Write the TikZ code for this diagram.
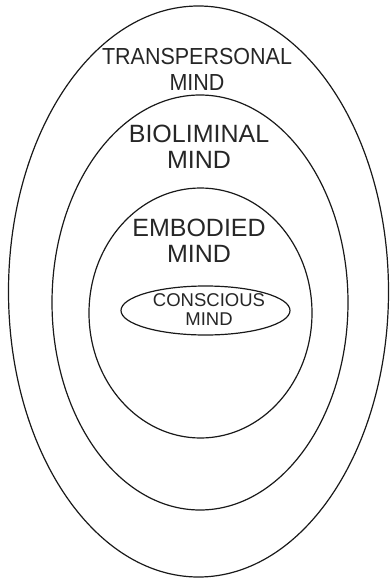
\documentclass[tikz,border=0pt]{standalone}
\usepackage{fontspec}
\setmainfont{Liberation Sans}
\usetikzlibrary{shapes.geometric}
\begin{document}
\begin{tikzpicture}[x=1pt,y=-1pt,
  ring/.style={draw=black!90,line width=1.2pt},
  lbl/.style={text=black!85,align=center,inner sep=0pt}]
\useasboundingbox (0,0) rectangle (390,578);
\draw[ring] (198.5,291.5) ellipse [x radius=190, y radius=285.5];
\draw[ring] (200,302.5) ellipse [x radius=148, y radius=207.5];
\draw[ring] (200.5,313) ellipse [x radius=111.5, y radius=125];
\draw[ring] (205.5,310.5) ellipse [x radius=84.5, y radius=24.5];
\node[lbl,font=\fontsize{21.5}{24}\selectfont,yscale=1.08] (trans) at (197,69) {TRANSPERSONAL\\MIND};
\node[lbl,font=\fontsize{25}{26}\selectfont] (bio) at (199,147) {BIOLIMINAL\\MIND};
\node[lbl,font=\fontsize{25}{26}\selectfont] (emb) at (199,241) {EMBODIED\\MIND};
\node[lbl,font=\fontsize{18.5}{19}\selectfont] (con) at (209,310) {CONSCIOUS\\MIND};
\end{tikzpicture}
\end{document}
